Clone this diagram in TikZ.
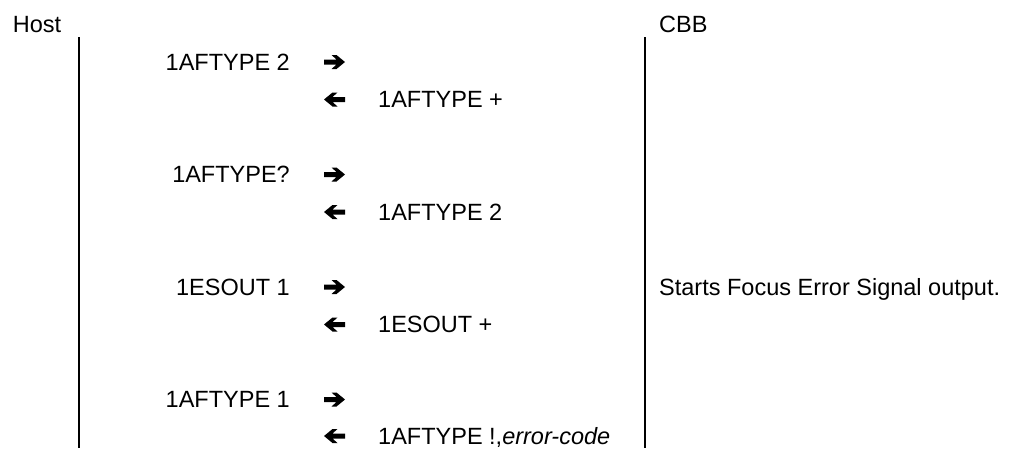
\documentclass[tikz,border=0pt]{standalone}
\usepackage{fontspec}
\setmainfont{Liberation Sans}
\begin{document}
\begin{tikzpicture}[x=1pt,y=-1pt,
  txt/.style={inner sep=0pt, font=\fontsize{23.5}{28}\selectfont},
  cmd/.style={txt, anchor=base east},
  rsp/.style={txt, anchor=base west},
  lifeline/.style={line width=2pt},
  rarr/.pic={\fill[black] (0,-2.5)--(12.5,-2.5)--(7.5,-7)--(12.5,-7)--(21,0)--(12.5,7)--(7.5,7)--(12.5,2.5)--(0,2.5)--cycle;},
  larr/.pic={\begin{scope}[xscale=-1]\fill[black] (0,-2.5)--(12.5,-2.5)--(7.5,-7)--(12.5,-7)--(21,0)--(12.5,7)--(7.5,7)--(12.5,2.5)--(0,2.5)--cycle;\end{scope}}
]
\useasboundingbox (0,0) rectangle (1016,448);
% headers
\node[rsp] (host) at (12.7,32.5) {Host};
\node[rsp] (cbb) at (659,32.5) {CBB};
% lifelines
\coordinate (hosttop) at (78.7,37);
\coordinate (hostbot) at (78.7,448);
\coordinate (cbbtop) at (645,37);
\coordinate (cbbbot) at (645,448);
\draw[lifeline] (hosttop) -- (hostbot);
\draw[lifeline] (cbbtop) -- (cbbbot);
% exchanges
\node[cmd] (c1) at (290,70) {1AFTYPE 2};
\pic at (324,62) {rarr};
\pic at (345,99.5) {larr};
\node[rsp] (r1) at (378,107.5) {1AFTYPE +};

\node[cmd] (c2) at (290,182.5) {1AFTYPE?};
\pic at (324,174.5) {rarr};
\pic at (345,212) {larr};
\node[rsp] (r2) at (378,220) {1AFTYPE 2};

\node[cmd] (c3) at (290,295) {1ESOUT 1};
\pic at (324,287) {rarr};
\pic at (345,324.5) {larr};
\node[rsp] (r3) at (378,332.5) {1ESOUT +};
\node[rsp] (d3) at (659,295) {Starts Focus Error Signal output.};

\node[cmd] (c4) at (290,407.5) {1AFTYPE 1};
\pic at (324,399.5) {rarr};
\pic at (345,436) {larr};
\node[rsp] (r4) at (378,444) {1AFTYPE !,\textit{error-code}};
\end{tikzpicture}
\end{document}
